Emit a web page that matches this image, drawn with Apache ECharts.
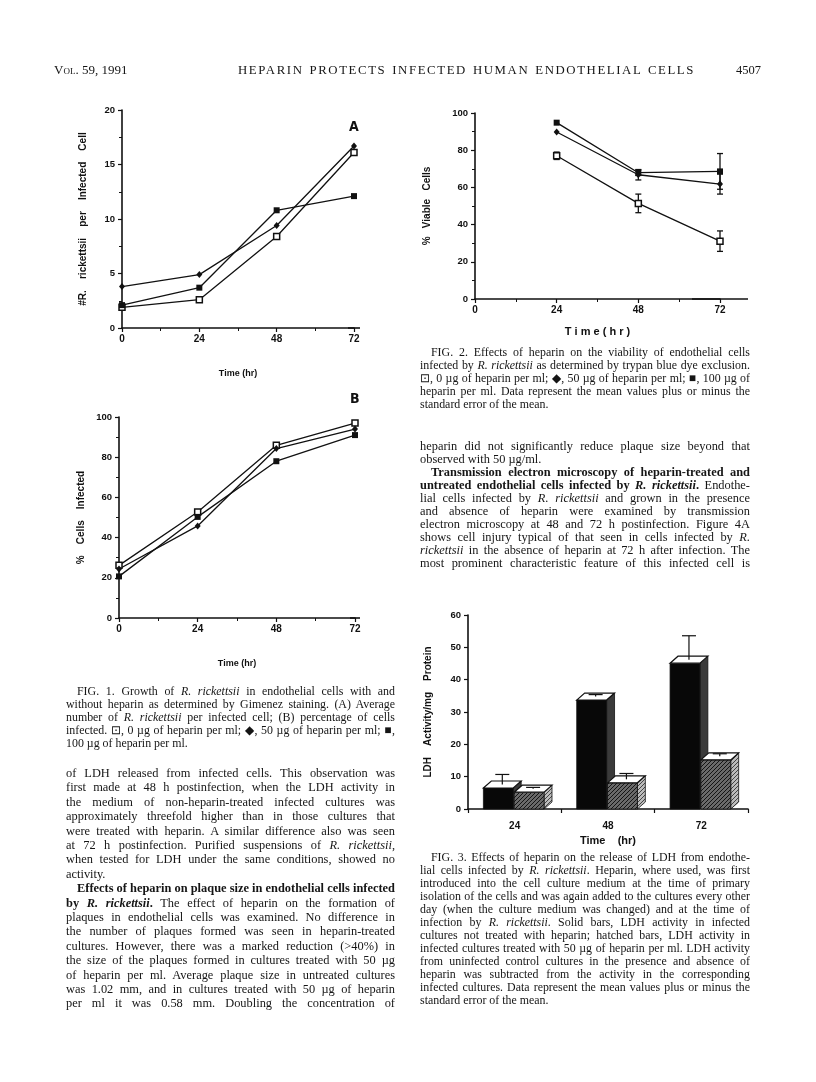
<!DOCTYPE html>
<html>
<head>
<meta charset="utf-8">
<script src="https://cdn.jsdelivr.net/npm/echarts@6/dist/echarts.min.js"></script>
<style>
  body { margin: 0; background: #fff; }
  #page { position: relative; width: 816px; height: 1082px; overflow: hidden; background: #fff; }
  #chart { position: absolute; left: 0; top: 0; width: 816px; height: 1082px; }
  .ln { position: absolute; font-family: "Liberation Serif", "Times New Roman", serif; font-size: 12.4px;
        line-height: 14px; height: 14px; white-space: nowrap; color: #151515; }
  .cap { font-size: 11.9px; }
  .j { text-align: justify; text-align-last: justify; }
</style>
</head>
<body>
<div id="page"><div id="chart"></div></div>
<script>
// Fig. 1A - R. rickettsii per infected cell
const hours = [0, 24, 48, 72]
const a_hep0 = [1.9, 2.6, 8.4, 16.1]
const a_hep50 = [3.8, 4.9, 9.4, 16.7]
const a_hep100 = [2.1, 3.7, 10.8, 12.1]
// Fig. 1B - % cells infected
const b_hep0 = [26.2, 52.7, 85.9, 97.0]
const b_hep50 = [24.4, 45.8, 84.3, 94.0]
const b_hep100 = [20.7, 50.3, 78.0, 91.0]
// Fig. 2 - % viable cells (mean, sem)
const v_hours = [24, 48, 72]
const v_hep0 = [77.0, 51.4, 31.1]
const v_hep0_err = [2.0, 5.0, 5.5]
const v_hep50 = [89.8, 66.8, 61.8]
const v_hep50_err = [0, 2.8, 5.4]
const v_hep100 = [94.8, 67.9, 68.6]
const v_hep100_err = [0, 1.5, 9.6]
// Fig. 3 - LDH activity / mg protein
const ldhTimes = ['24', '48', '72']
const ldhSolid = [6.5, 33.7, 45.1]
const ldhSolidErr = [3.1, 0.6, 7.4]
const ldhHatched = [5.2, 8.1, 15.2]
const ldhHatchedErr = [0.4, 1.8, 0.8]

const ink = '#111'
const sans = '"Liberation Sans", Arial, sans-serif'

// hatch pattern for the heparin bars
function hatch (bg, fg) {
  const c = document.createElement('canvas')
  c.width = 4; c.height = 4
  const g = c.getContext('2d')
  g.fillStyle = bg; g.fillRect(0, 0, 4, 4)
  g.strokeStyle = fg; g.lineWidth = 1
  g.beginPath(); g.moveTo(0, 4); g.lineTo(4, 0); g.stroke()
  return { image: c, repeat: 'repeat' }
}
const hatchFront = hatch('#6a6a6a', '#151515')
const hatchSide = hatch('#bbb', '#444')

function valueX (grid, extend, nameGap, name, nameSize) {
  return {
    gridIndex: grid, type: 'value', min: 0, max: 72, interval: 24,
    axisLine: { show: true, onZero: false, lineStyle: { color: ink, width: 1.6 },
      symbol: ['none', 'rect'], symbolSize: [1.6, extend * 2] },
    axisTick: { length: 4, lineStyle: { color: ink, width: 1.2 } },
    minorTick: { show: true, splitNumber: 2, length: 3, lineStyle: { color: ink, width: 1 } },
    splitLine: { show: false },
    axisLabel: { fontSize: 10, fontWeight: 'bold', color: ink, fontFamily: sans, margin: 6 },
    name: name, nameLocation: 'middle', nameGap: nameGap,
    nameTextStyle: { fontSize: nameSize, fontWeight: 'bold', color: ink, fontFamily: sans }
  }
}
function valueY (grid, max, interval, name, nameGap, minor) {
  return {
    gridIndex: grid, type: 'value', min: 0, max: max, interval: interval,
    axisLine: { show: true, onZero: false, lineStyle: { color: ink, width: 1.6 } },
    axisTick: { show: true, length: 4, lineStyle: { color: ink, width: 1.2 } },
    minorTick: { show: minor, splitNumber: 2, length: 3, lineStyle: { color: ink, width: 1 } },
    splitLine: { show: false },
    axisLabel: { fontSize: 9.5, fontWeight: 'bold', color: ink, fontFamily: sans, margin: 7 },
    name: name, nameLocation: 'middle', nameGap: nameGap,
    nameTextStyle: { fontSize: 10, fontWeight: 'bold', color: ink, fontFamily: sans }
  }
}

const markOpen = { symbol: 'rect', symbolSize: 6, itemStyle: { color: '#fff', borderColor: ink, borderWidth: 1.5 } }
const markDiamond = { symbol: 'diamond', symbolSize: [6, 7], itemStyle: { color: ink } }
const markFilled = { symbol: 'rect', symbolSize: 6, itemStyle: { color: ink } }

function lineSeries (grid, xs, ys, mark) {
  return Object.assign({
    type: 'line', xAxisIndex: grid, yAxisIndex: grid,
    data: xs.map((x, i) => [x, ys[i]]),
    showSymbol: true, animation: false,
    lineStyle: { color: ink, width: 1.3 }
  }, mark)
}

function errSeries (grid, xs, ys, es) {
  return {
    type: 'custom', xAxisIndex: grid, yAxisIndex: grid, animation: false,
    data: xs.map((x, i) => [x, ys[i] - es[i], ys[i] + es[i]]).filter((d, i) => es[i] > 0),
    renderItem (params, api) {
      const lo = api.coord([api.value(0), api.value(1)])
      const hi = api.coord([api.value(0), api.value(2)])
      const st = { stroke: ink, lineWidth: 1.3 }
      return {
        type: 'group',
        children: [
          { type: 'line', shape: { x1: lo[0], y1: lo[1], x2: hi[0], y2: hi[1] }, style: st },
          { type: 'line', shape: { x1: lo[0] - 3, y1: lo[1], x2: lo[0] + 3, y2: lo[1] }, style: st },
          { type: 'line', shape: { x1: hi[0] - 3, y1: hi[1], x2: hi[0] + 3, y2: hi[1] }, style: st }
        ]
      }
    }
  }
}

// 3-D looking bars with a "plus" error bar
function barSeries (vals, errs, solid) {
  return {
    type: 'custom', xAxisIndex: 3, yAxisIndex: 3, animation: false,
    data: vals.map((v, i) => [i, v, errs[i]]),
    renderItem (params, api) {
      const top = api.coord([api.value(0), api.value(1)])
      const base = api.coord([api.value(0), 0])
      const capPt = api.coord([api.value(0), api.value(1) + api.value(2)])
      const bw = api.size([1, 0])[0]
      const w = bw * 0.32
      const x0 = top[0] + (solid ? -bw * 0.335 : -bw * 0.005)
      const dx = bw * 0.085
      const dy = 7
      const t = top[1]
      const b = base[1]
      const ex = x0 + w / 2 + dx / 2
      const st = { stroke: ink, lineWidth: 1.2 }
      return {
        type: 'group',
        children: [
          { type: 'polygon', shape: { points: [[x0 + w, t], [x0 + w + dx, t - dy], [x0 + w + dx, b - dy], [x0 + w, b]] },
            style: { fill: solid ? '#3a3a3a' : hatchSide, stroke: ink, lineWidth: 0.8 } },
          { type: 'rect', shape: { x: x0, y: t, width: w, height: b - t },
            style: { fill: solid ? '#080808' : hatchFront, stroke: ink, lineWidth: 0.8 } },
          { type: 'polygon', shape: { points: [[x0, t], [x0 + w, t], [x0 + w + dx, t - dy], [x0 + dx, t - dy]] },
            style: { fill: '#fff', stroke: ink, lineWidth: 1.2 } },
          { type: 'line', shape: { x1: ex, y1: t - dy / 2, x2: ex, y2: capPt[1] - dy / 2 }, style: st },
          { type: 'line', shape: { x1: ex - 7, y1: capPt[1] - dy / 2, x2: ex + 7, y2: capPt[1] - dy / 2 }, style: st }
        ]
      }
    }
  }
}

const chart = echarts.init(document.getElementById('chart'), null, { renderer: 'canvas' })
chart.setOption({
  backgroundColor: 'transparent',
  animation: false,
  grid: [
    { left: 122, top: 110, width: 232, height: 218 },
    { left: 119, top: 417, width: 236, height: 201 },
    { left: 475, top: 113, width: 245, height: 186 },
    { left: 468, top: 615, width: 280, height: 194 }
  ],
  xAxis: [
    valueX(0, 6, 41, 'Time (hr)', 9),
    valueX(1, 5, 41, 'Time (hr)', 9),
    valueX(2, 28, 27, 'T i m e ( h r )', 11),
    {
      gridIndex: 3, type: 'category', data: ldhTimes, boundaryGap: true,
      axisLine: { show: true, lineStyle: { color: ink, width: 1.6 } },
      axisTick: { show: true, length: 4, lineStyle: { color: ink, width: 1.2 } },
      axisLabel: { fontSize: 10, fontWeight: 'bold', color: ink, fontFamily: sans, margin: 12 },
      name: 'Time    (hr)', nameLocation: 'middle', nameGap: 26,
      nameTextStyle: { fontSize: 11, fontWeight: 'bold', color: ink, fontFamily: sans }
    }
  ],
  yAxis: [
    valueY(0, 20, 5, '#R.    rickettsii    per    Infected    Cell', 34, true),
    valueY(1, 100, 20, '%    Cells    Infected', 33, true),
    valueY(2, 100, 20, '%   Viable   Cells', 43, true),
    valueY(3, 60, 10, 'LDH    Activity/mg    Protein', 35, false)
  ],
  graphic: [
    { type: 'text', left: 349, top: 120, style: { text: 'A', font: 'bold 14px "DejaVu Sans Condensed", "Liberation Sans Narrow", sans-serif', fill: ink } },
    { type: 'text', left: 350, top: 392, style: { text: 'B', font: 'bold 14px "DejaVu Sans Condensed", "Liberation Sans Narrow", sans-serif', fill: ink } }
  ],
  series: [
    lineSeries(0, hours, a_hep0, markOpen),
    lineSeries(0, hours, a_hep50, markDiamond),
    lineSeries(0, hours, a_hep100, markFilled),
    lineSeries(1, hours, b_hep0, markOpen),
    lineSeries(1, hours, b_hep50, markDiamond),
    lineSeries(1, hours, b_hep100, markFilled),
    errSeries(2, v_hours, v_hep0, v_hep0_err),
    errSeries(2, v_hours, v_hep50, v_hep50_err),
    errSeries(2, v_hours, v_hep100, v_hep100_err),
    lineSeries(2, v_hours, v_hep0, markOpen),
    lineSeries(2, v_hours, v_hep50, markDiamond),
    lineSeries(2, v_hours, v_hep100, markFilled),
    barSeries(ldhSolid, ldhSolidErr, true),
    barSeries(ldhHatched, ldhHatchedErr, false)
  ]
})

// page text
const page = document.getElementById('page')
function put (x, y, w, html, cls, extra) {
  const d = document.createElement('div')
  d.className = 'ln ' + (cls || '')
  d.style.left = x + 'px'
  d.style.top = (y - 7) + 'px'
  if (w) d.style.width = w + 'px'
  if (extra) Object.assign(d.style, extra)
  d.innerHTML = html
  page.appendChild(d)
}
function block (x, y0, w, step, paras, cls) {
  let y = y0
  paras.forEach(p => {
    p.lines.forEach((ln, i) => {
      const last = i === p.lines.length - 1
      const ind = (i === 0 && p.indent) ? 11 : 0
      put(x + ind, y, w - ind, ln, ((!last || p.full) ? 'j ' : '') + (cls || ''))
      y += step
    })
  })
}

put(54, 70, 0, 'Vol. 59, 1991', '', { fontVariant: 'small-caps', fontSize: '13px' })
put(238, 70, 457, 'HEPARIN PROTECTS INFECTED HUMAN ENDOTHELIAL CELLS', 'j', { fontSize: '12.8px', letterSpacing: '1.6px' })
put(736, 70, 0, '4507', '', { fontSize: '12.5px' })

const R = '<i>R. rickettsii</i>'
block(66, 691, 329, 13, [
  { indent: true, lines: [
    'FIG. 1. Growth of ' + R + ' in endothelial cells with and',
    'without heparin as determined by Gimenez staining. (A) Average',
    'number of ' + R + ' per infected cell; (B) percentage of cells',
    'infected. &#8865;, 0 &micro;g of heparin per ml; &#9670;, 50 &micro;g of heparin per ml; &#9632;,',
    '100 &micro;g of heparin per ml.'
  ] }
], 'cap')

block(66, 773, 329, 14.4, [
  { lines: [
    'of LDH released from infected cells. This observation was',
    'first made at 48 h postinfection, when the LDH activity in',
    'the medium of non-heparin-treated infected cultures was',
    'approximately threefold higher than in those cultures that',
    'were treated with heparin. A similar difference also was seen',
    'at 72 h postinfection. Purified suspensions of ' + R + ',',
    'when tested for LDH under the same conditions, showed no',
    'activity.'
  ] },
  { indent: true, full: true, lines: [
    '<b>Effects of heparin on plaque size in endothelial cells infected</b>',
    '<b>by ' + R + '.</b> The effect of heparin on the formation of',
    'plaques in endothelial cells was examined. No difference in',
    'the number of plaques formed was seen in heparin-treated',
    'cultures. However, there was a marked reduction (&gt;40%) in',
    'the size of the plaques formed in cultures treated with 50 &micro;g',
    'of heparin per ml. Average plaque size in untreated cultures',
    'was 1.02 mm, and in cultures treated with 50 &micro;g of heparin',
    'per ml it was 0.58 mm. Doubling the concentration of'
  ] }
])

block(420, 352, 330, 13, [
  { indent: true, lines: [
    'FIG. 2. Effects of heparin on the viability of endothelial cells',
    'infected by ' + R + ' as determined by trypan blue dye exclusion.',
    '&#8865;, 0 &micro;g of heparin per ml; &#9670;, 50 &micro;g of heparin per ml; &#9632;, 100 &micro;g of',
    'heparin per ml. Data represent the mean values plus or minus the',
    'standard error of the mean.'
  ] }
], 'cap')

block(420, 446, 330, 13, [
  { lines: [
    'heparin did not significantly reduce plaque size beyond that',
    'observed with 50 &micro;g/ml.'
  ] },
  { indent: true, full: true, lines: [
    '<b>Transmission electron microscopy of heparin-treated and</b>',
    '<b>untreated endothelial cells infected by ' + R + '.</b> Endothe-',
    'lial cells infected by ' + R + ' and grown in the presence',
    'and absence of heparin were examined by transmission',
    'electron microscopy at 48 and 72 h postinfection. Figure 4A',
    'shows cell injury typical of that seen in cells infected by <i>R.</i>',
    '<i>rickettsii</i> in the absence of heparin at 72 h after infection. The',
    'most prominent characteristic feature of this infected cell is'
  ] }
])

block(420, 857, 330, 13, [
  { indent: true, lines: [
    'FIG. 3. Effects of heparin on the release of LDH from endothe-',
    'lial cells infected by ' + R + '. Heparin, where used, was first',
    'introduced into the cell culture medium at the time of primary',
    'isolation of the cells and was again added to the cultures every other',
    'day (when the culture medium was changed) and at the time of',
    'infection by ' + R + '. Solid bars, LDH activity in infected',
    'cultures not treated with heparin; hatched bars, LDH activity in',
    'infected cultures treated with 50 &micro;g of heparin per ml. LDH activity',
    'from uninfected control cultures in the presence and absence of',
    'heparin was subtracted from the activity in the corresponding',
    'infected cultures. Data represent the mean values plus or minus the',
    'standard error of the mean.'
  ] }
], 'cap')
</script>
</body>
</html>
